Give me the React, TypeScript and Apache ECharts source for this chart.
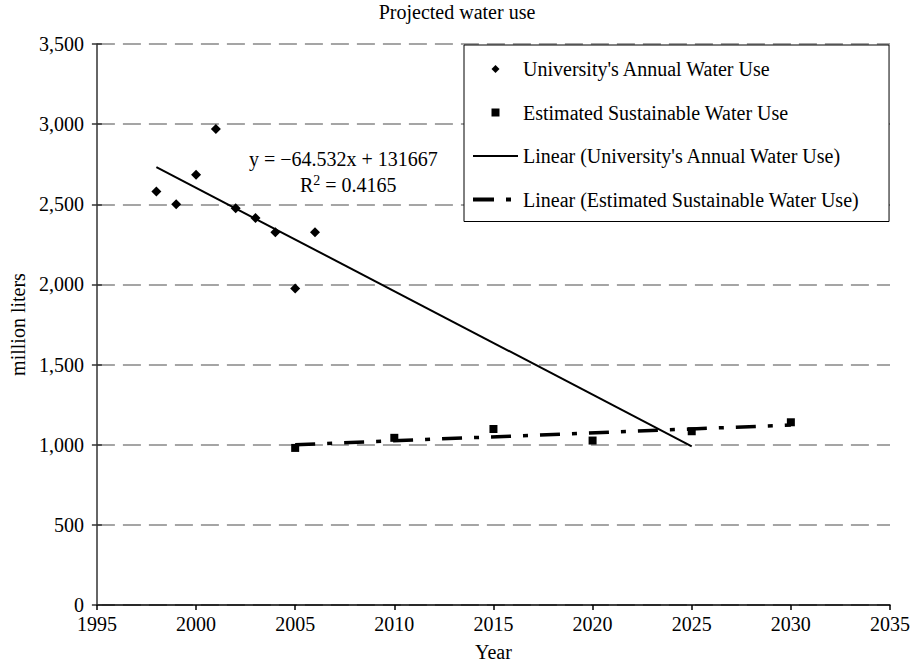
import React, { useEffect, useRef } from "react";
import * as echarts from "echarts";

const annualYears = [1998, 1999, 2000, 2001, 2002, 2003, 2004, 2005, 2006];
const annualUse = [2580, 2500, 2685, 2970, 2475, 2415, 2325, 1975, 2325];

const sustainYears = [2005, 2010, 2015, 2020, 2025, 2030];
const sustainUse = [980, 1043, 1098, 1026, 1084, 1140];

// trend line endpoints (from the printed equation)
const annualTrendYears = [1998, 2025];
const annualTrendValues = [2732, 990];
const sustainTrendYears = [2005, 2030];
const sustainTrendValues = [1000, 1123];

const yTicks = [0, 500, 1000, 1500, 2000, 2500, 3000, 3500];
const xTicks = [1995, 2000, 2005, 2010, 2015, 2020, 2025, 2030, 2035];

const FONT = "Liberation Serif";

const zip = (xs: number[], ys: number[]) => xs.map((x, i) => [x, ys[i]]);

export default function App() {
  const ref = useRef<HTMLDivElement>(null);
  useEffect(() => {
    if (!ref.current) return;
    const chart = echarts.init(ref.current, null, { renderer: "svg" });
    chart.setOption({
      animation: false,
      backgroundColor: "#ffffff",
      textStyle: { fontFamily: FONT, color: "#000" },
      title: {
        text: "Projected water use",
        left: "center",
        top: -3,
        textStyle: { fontFamily: FONT, fontSize: 20, fontWeight: "normal", color: "#000" },
      },
      grid: { left: 96, right: 24, top: 44, bottom: 58 },
      xAxis: {
        type: "value",
        min: xTicks[0],
        max: xTicks[xTicks.length - 1],
        interval: 5,
        name: "Year",
        nameLocation: "middle",
        nameGap: 37,
        nameTextStyle: { fontFamily: FONT, fontSize: 20, color: "#000" },
        axisLine: { lineStyle: { color: "#000", width: 1.5 } },
        axisTick: { show: true, length: 5, lineStyle: { color: "#000", width: 1.5 } },
        axisLabel: {
          fontFamily: FONT,
          fontSize: 20,
          color: "#000",
          margin: 9,
          formatter: (v: number) => String(v),
        },
        splitLine: { show: false },
      },
      yAxis: [
        {
          type: "value",
          min: yTicks[0],
          max: yTicks[yTicks.length - 1],
          interval: 500,
          name: "million liters",
          nameLocation: "middle",
          nameGap: 68,
          nameTextStyle: { fontFamily: FONT, fontSize: 20, color: "#000" },
          axisLine: { show: true, lineStyle: { color: "#333", width: 1.5 } },
          axisTick: { show: true, length: 5, lineStyle: { color: "#333", width: 1.5 } },
          axisLabel: {
            fontFamily: FONT,
            fontSize: 20,
            color: "#000",
            margin: 13,
            formatter: (v: number) => v.toLocaleString("en-US"),
          },
          splitLine: {
            show: true,
            lineStyle: { color: "#888", width: 1.5, type: [18, 8] },
          },
        },
        {
          type: "value",
          min: yTicks[0],
          max: yTicks[yTicks.length - 1],
          interval: 500,
          position: "left",
          axisLine: { show: false },
          axisTick: { show: true, inside: true, length: 5, lineStyle: { color: "#333", width: 1.5 } },
          axisLabel: { show: false },
          splitLine: { show: false },
        },
      ],
      legend: {
        orient: "vertical",
        left: 464,
        top: 45,
        backgroundColor: "#fff",
        borderColor: "#000",
        borderWidth: 1,
        borderRadius: 0,
        padding: [13, 30, 11, 9],
        itemWidth: 45,
        itemHeight: 8,
        itemGap: 21.5,
        symbolKeepAspect: true,
        textStyle: { fontFamily: FONT, fontSize: 20, color: "#000", lineHeight: 22 },
        data: [
          {
            name: "University's Annual Water Use",
            icon: "path://M4,0L8,4L4,8L0,4Z",
            itemStyle: { color: "#000", borderWidth: 0 },
          },
          {
            name: "Estimated Sustainable Water Use",
            icon: "path://M0,0H7V7H0Z",
            itemStyle: { color: "#000", borderWidth: 0 },
          },
          {
            name: "Linear (University's Annual Water Use)",
            icon: "path://M0,0H45V1.8H0Z",
            itemStyle: { color: "#000", borderWidth: 0 },
          },
          {
            name: "Linear (Estimated Sustainable Water Use)",
            icon: "path://M0,0H21V4H0ZM33,0H38V4H33ZM45,0L45,4L45,0Z",
            itemStyle: { color: "#000", borderWidth: 0 },
          },
        ],
      },
      graphic: [
        {
          type: "text",
          left: 249,
          top: 149,
          style: {
            text: "y = \u221264.532x + 131667",
            fontFamily: FONT,
            fontSize: 20,
            fill: "#000",
          },
        },
        {
          type: "text",
          left: 300,
          top: 173,
          style: {
            text: "R{sup|2} = 0.4165",
            fontFamily: FONT,
            fontSize: 20,
            fill: "#000",
            rich: {
              sup: { fontFamily: FONT, fontSize: 14, padding: [0, 0, 9, 0], fill: "#000" },
            },
          },
        },
      ],
      series: [
        {
          name: "Linear (University's Annual Water Use)",
          type: "line",
          data: zip(annualTrendYears, annualTrendValues),
          symbol: "none",
          lineStyle: { color: "#000", width: 2 },
          itemStyle: { color: "#000" },
          z: 2,
        },
        {
          name: "Linear (Estimated Sustainable Water Use)",
          type: "line",
          data: zip(sustainTrendYears, sustainTrendValues),
          symbol: "none",
          lineStyle: { color: "#000", width: 3.5, type: [20, 12, 5, 12] },
          itemStyle: { color: "#000" },
          z: 2,
        },
        {
          name: "University's Annual Water Use",
          type: "scatter",
          data: zip(annualYears, annualUse),
          symbol: "diamond",
          symbolSize: 10,
          itemStyle: { color: "#000", opacity: 1 },
          z: 3,
        },
        {
          name: "Estimated Sustainable Water Use",
          type: "scatter",
          data: zip(sustainYears, sustainUse),
          symbol: "rect",
          symbolSize: 8,
          itemStyle: { color: "#000", opacity: 1 },
          z: 3,
        },
      ],
    });
    return () => chart.dispose();
  }, []);
  return <div ref={ref} style={{ width: 914, height: 667, position: "absolute", left: 0, top: 0 }} />;
}
